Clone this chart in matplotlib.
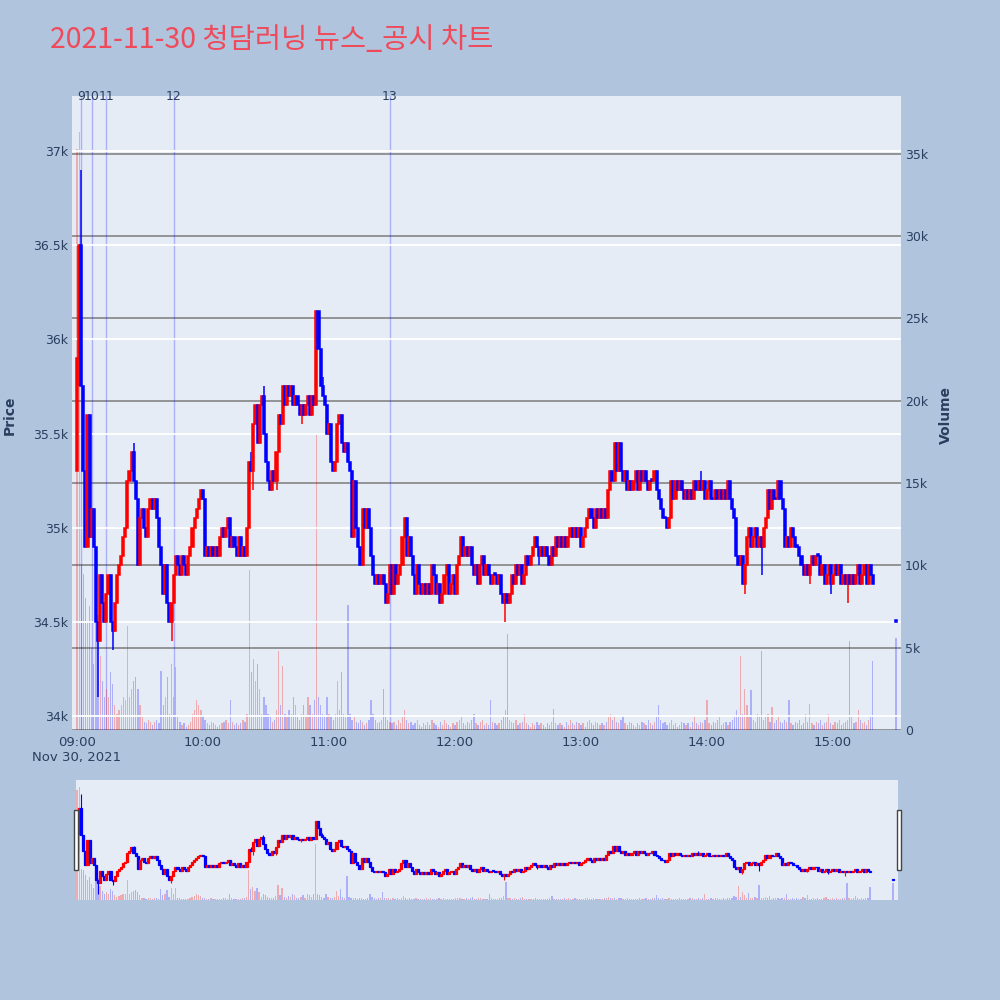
import matplotlib
matplotlib.use("Agg")
import matplotlib.pyplot as plt
from matplotlib.patches import Rectangle
import matplotlib.transforms as mtransforms

title = "2021-11-30 청담러닝 뉴스_공시 차트"

first_open = 35300
close = [
    35900, 36500, 35750, 35300, 34900, 35600, 34950, 35100, 34900, 34500,
    34400, 34750, 34600, 34500, 34650, 34750, 34500, 34450, 34600, 34750,
    34800, 34850, 34950, 35000, 35250, 35300, 35400, 35250, 35150, 34800,
    35050, 35100, 35000, 34950, 35100, 35150, 35100, 35150, 35050, 34900,
    34800, 34650, 34800, 34600, 34500, 34600, 34750, 34850, 34800, 34750,
    34850, 34800, 34750, 34850, 34900, 35000, 35050, 35100, 35150, 35200,
    35150, 34850, 34900, 34850, 34900, 34850, 34900, 34850, 34950, 35000,
    34950, 35000, 35050, 34900, 34950, 34900, 34850, 34950, 34850, 34900,
    34850, 35000, 35350, 35300, 35550, 35650, 35450, 35650, 35700, 35500,
    35350, 35250, 35200, 35300, 35250, 35400, 35600, 35550, 35750, 35650,
    35750, 35700, 35750, 35650, 35700, 35650, 35600, 35650, 35600, 35650,
    35700, 35600, 35700, 35650, 36150, 35950, 35750, 35700, 35650, 35500,
    35550, 35350, 35300, 35350, 35550, 35600, 35450, 35400, 35450, 35350,
    35300, 34950, 35250, 35000, 34900, 34800, 35100, 35000, 35100, 35000,
    34850, 34750, 34700, 34750, 34700, 34750, 34700, 34600, 34650, 34800,
    34650, 34800, 34700, 34750, 34800, 34950, 35050, 34850, 34950, 34850,
    34750, 34650, 34800, 34700, 34650, 34700, 34650, 34700, 34650, 34800,
    34750, 34650, 34700, 34600, 34650, 34750, 34800, 34650, 34700, 34750,
    34650, 34800, 34850, 34950, 34850, 34900, 34850, 34900, 34800, 34750,
    34800, 34700, 34800, 34850, 34750, 34800, 34750, 34700, 34750, 34750,
    34700, 34750, 34650, 34600, 34650, 34600, 34650, 34750, 34700, 34800,
    34750, 34800, 34700, 34750, 34850, 34800, 34850, 34900, 34950, 34900,
    34850, 34900, 34850, 34900, 34850, 34800, 34900, 34850, 34950, 34900,
    34950, 34900, 34950, 34900, 34950, 35000, 34950, 35000, 34950, 35000,
    34900, 34950, 35000, 35050, 35100, 35050, 35000, 35100, 35050, 35100,
    35050, 35100, 35050, 35200, 35300, 35250, 35450, 35300, 35450, 35300,
    35250, 35300, 35200, 35250, 35200, 35250, 35300, 35200, 35300, 35250,
    35300, 35250, 35200, 35250, 35250, 35300, 35200, 35150, 35100, 35050,
    35050, 35000, 35050, 35250, 35150, 35250, 35200, 35250, 35200, 35150,
    35200, 35150, 35200, 35150, 35250, 35200, 35250, 35200, 35250, 35150,
    35200, 35250, 35150, 35150, 35200, 35150, 35200, 35150, 35200, 35150,
    35250, 35150, 35100, 35050, 34850, 34800, 34850, 34700, 34800, 34950,
    35000, 34900, 34950, 35000, 34900, 34950, 34900, 35000, 35050, 35200,
    35100, 35200, 35150, 35150, 35250, 35150, 35100, 34900, 34950, 34900,
    35000, 34950, 34900, 34900, 34850, 34800, 34750, 34800, 34750, 34800,
    34850, 34800, 34850, 34850, 34750, 34800, 34700, 34750, 34800, 34700,
    34750, 34800, 34750, 34800, 34700, 34750, 34700, 34750, 34700, 34750,
    34700, 34750, 34800, 34700, 34750, 34800, 34700, 34800, 34750, 34700,
]
wick_high = {2: 36900, 27: 35450, 83: 35400, 86: 35600, 89: 35750,
             117: 35800, 297: 35300, 330: 35200}
wick_low = {1: 35750, 10: 34100, 17: 34350, 45: 34400, 84: 35200, 95: 35200,
            107: 35550, 204: 34500, 220: 34800, 318: 34650, 326: 34750,
            337: 34900, 349: 34700, 359: 34650, 367: 34600}

volume_k = [
    35.3, 36.3, 10.0, 9.5, 8.0, 6.5, 7.5, 5.0, 4.0, 9.0,
    7.0, 4.5, 3.0, 2.0, 2.5, 2.0, 3.5, 2.8, 1.5, 1.0,
    1.2, 1.5, 2.0, 1.8, 6.3, 2.0, 2.5, 3.0, 3.2, 2.5,
    1.5, 0.8, 0.5, 0.4, 0.6, 0.5, 0.3, 0.5, 0.6, 0.4,
    3.6, 1.5, 2.0, 3.2, 1.0, 4.0, 2.0, 3.8, 0.8, 0.5,
    0.3, 0.4, 0.2, 0.3, 0.5, 1.0, 1.2, 1.8, 1.5, 1.2,
    0.8, 0.6, 0.4, 0.3, 0.5, 0.4, 0.3, 0.2, 0.3, 0.4,
    0.5, 0.6, 0.4, 1.8, 0.5, 0.3, 0.4, 0.3, 0.4, 0.6,
    0.5, 1.0, 9.7, 3.5, 4.3, 3.0, 4.0, 2.5, 1.0, 2.0,
    1.5, 1.0, 0.8, 0.5, 0.6, 1.2, 4.8, 1.5, 3.9, 1.0,
    0.8, 1.2, 1.0, 2.0, 1.5, 0.8, 0.6, 1.0, 1.5, 0.8,
    2.0, 1.5, 1.0, 1.8, 17.9, 2.0, 1.5, 1.0, 0.8, 2.0,
    1.0, 0.8, 0.6, 1.0, 3.0, 1.2, 3.5, 1.0, 0.8, 7.6,
    1.0, 0.6, 0.8, 0.5, 0.4, 0.6, 0.5, 0.3, 0.4, 0.6,
    1.8, 1.0, 0.6, 0.4, 0.5, 0.6, 2.5, 0.8, 0.6, 0.5,
    0.4, 0.5, 0.3, 0.6, 0.4, 0.8, 1.2, 0.6, 0.4, 0.5,
    0.3, 0.4, 0.6, 0.3, 0.2, 0.4, 0.3, 0.5, 0.3, 0.6,
    0.4, 0.3, 0.2, 0.5, 0.3, 0.6, 0.4, 0.3, 0.2, 0.4,
    0.3, 0.5, 0.6, 0.8, 0.4, 0.3, 0.5, 0.4, 0.6, 1.0,
    0.4, 0.3, 0.5, 0.6, 0.3, 0.4, 0.3, 1.8, 0.5, 0.4,
    0.3, 0.4, 0.6, 0.8, 1.2, 5.8, 0.6, 0.5, 0.4, 0.6,
    0.3, 0.4, 0.5, 1.0, 0.4, 0.3, 0.2, 0.4, 0.3, 0.5,
    0.3, 0.4, 0.3, 0.2, 0.4, 0.3, 0.5, 1.3, 0.4, 0.3,
    0.4, 0.3, 0.2, 0.5, 0.3, 0.6, 0.4, 0.3, 0.5, 0.4,
    0.3, 0.4, 0.2, 0.5, 0.6, 0.4, 0.3, 0.5, 0.4, 0.3,
    0.4, 0.3, 0.5, 0.8, 1.0, 0.6, 0.8, 0.5, 0.4, 0.6,
    0.8, 0.4, 0.3, 0.5, 0.4, 0.3, 0.2, 0.4, 0.3, 0.5,
    0.4, 0.3, 0.6, 0.4, 0.3, 0.5, 0.8, 1.5, 0.6, 0.4,
    0.5, 0.3, 0.4, 0.6, 0.3, 0.4, 0.2, 0.3, 0.5, 0.4,
    0.3, 0.4, 0.2, 0.5, 0.8, 0.4, 0.3, 0.5, 0.4, 0.6,
    1.8, 0.4, 0.3, 0.5, 0.4, 0.6, 0.8, 0.3, 0.4, 0.5,
    0.3, 0.5, 0.6, 0.8, 1.2, 0.9, 4.5, 1.0, 2.5, 1.5,
    0.8, 2.4, 0.6, 0.5, 1.0, 0.8, 4.8, 0.6, 0.8, 1.0,
    0.5, 1.4, 0.4, 0.6, 0.8, 0.5, 0.4, 0.6, 0.5, 1.8,
    0.4, 0.3, 0.5, 0.4, 0.6, 0.3, 0.4, 1.0, 0.5, 1.6,
    0.4, 0.3, 0.5, 0.4, 0.6, 0.3, 0.4, 0.5, 1.0, 0.4,
    0.3, 0.5, 0.4, 0.6, 0.3, 0.4, 0.5, 0.6, 5.4, 0.8,
    0.4, 0.5, 1.2, 0.6, 0.4, 0.5, 0.3, 0.6, 0.8, 4.2,
]
closing_minute = 390
closing_price = 34500
closing_volume_k = 5.6

news_minutes = [2, 7, 14, 46, 149]
news_labels = ["9", "10", "11", "12", "13"]
tick_minutes = [0, 60, 120, 180, 240, 300, 360]
tick_labels = ["09:00", "10:00", "11:00", "12:00", "13:00", "14:00", "15:00"]
price_ticks = [34000, 34500, 35000, 35500, 36000, 36500, 37000]
volume_ticks = [0, 5000, 10000, 15000, 20000, 25000, 30000, 35000]

# ---- build OHLC ----
minutes = list(range(len(close))) + [closing_minute]
closes = close + [closing_price]
opens = [first_open] + close[:-1] + [closing_price]
highs, lows = [], []
for i, (o, c) in enumerate(zip(opens, closes)):
    highs.append(max(o, c, wick_high.get(i, c)))
    lows.append(min(o, c, wick_low.get(i, c)))
volumes = [v * 1000 for v in volume_k] + [closing_volume_k * 1000]

UP, DOWN = "#FF0000", "#0000FF"
colors = [UP if c > o else DOWN for o, c in zip(opens, closes)]
colors[0] = UP

BG = "#B0C4DE"
PLOT_BG = "#E5ECF6"
FONT_C = "#2a3f5f"
XLIM = (-2.4, 392.4)
PRICE_LIM = (33926, 37292)
VOL_LIM = (0, 38500)

fig = plt.figure(figsize=(10, 10), dpi=100)
fig.patch.set_facecolor(BG)


def draw(ax_vol, ax_px, body_w, body_lw, wick_lw, bar_w):
    vcol = [(1, 0, 0, 0.28) if c == UP else (0, 0, 1, 0.25) for c in colors]
    ax_vol.bar(minutes, volumes, width=bar_w, color=vcol, linewidth=0, zorder=2)
    for m, o, c, h, l, col in zip(minutes, opens, closes, highs, lows, colors):
        lo_b, hi_b = min(o, c), max(o, c)
        ax_px.vlines(m, l, h, color=col, lw=wick_lw, zorder=3)
        ax_px.bar(m, max(hi_b - lo_b, 8), bottom=lo_b, width=body_w, color=col,
                  edgecolor=col, linewidth=body_lw, zorder=4)


# ---- main chart ----
ax = fig.add_axes([0.072, 0.270, 0.829, 0.634])
ax.set_facecolor(PLOT_BG)
ax2 = ax.twinx()
draw(ax, ax2, 1.0, 1.1, 1.1, 0.6)

ax.set_xlim(*XLIM)
ax.set_ylim(*VOL_LIM)
ax2.set_ylim(*PRICE_LIM)

for a in (ax, ax2):
    for s in a.spines.values():
        s.set_visible(False)

ax.yaxis.tick_right()
ax.set_yticks(volume_ticks)
ax.set_yticklabels(["0"] + [f"{v // 1000}k" for v in volume_ticks[1:]])
ax.grid(axis="y", color="#8c8c8c", lw=1.3, zorder=0)
ax.set_axisbelow(True)
ax.tick_params(axis="y", length=0, pad=3, labelsize=9, labelcolor=FONT_C,
               right=False, labelright=True, left=False, labelleft=False)

ax2.yaxis.tick_left()
ax2.set_yticks(price_ticks)
ax2.set_yticklabels([f"{p / 1000:g}k" for p in price_ticks])
ax2.grid(axis="y", color="white", lw=1.3, zorder=0)
ax2.set_axisbelow(True)
ax2.tick_params(axis="y", length=0, pad=3, labelsize=9, labelcolor=FONT_C,
                left=False, labelleft=True, right=False, labelright=False)

ax.set_xticks(tick_minutes)
ax.set_xticklabels(tick_labels)
ax.tick_params(axis="x", length=0, pad=4, labelsize=9.5, labelcolor=FONT_C)

# news lines + labels
trans = mtransforms.blended_transform_factory(ax.transData, ax.transAxes)
for m, lab in zip(news_minutes, news_labels):
    ax.axvline(m, color=(0, 0, 1, 0.25), lw=1.0, zorder=1)
    ax.text(m, 1.0, lab, transform=trans, ha="center", va="center",
            fontsize=9, color=FONT_C)

fig.text(0.077, 1 - 0.757, "Nov 30, 2021", ha="center", va="center",
         fontsize=9.5, color=FONT_C)
fig.text(0.010, 1 - 0.415, "Price", rotation=90, ha="center", va="center",
         fontsize=10, fontweight="bold", color=FONT_C)
fig.text(0.946, 1 - 0.415, "Volume", rotation=90, ha="center", va="center",
         fontsize=10, fontweight="bold", color=FONT_C)
fig.text(0.050, 1 - 0.040, title, ha="left", va="center", fontsize=20.5,
         color="#EF4A5A", family=["Noto Sans CJK KR", "DejaVu Sans"])

# ---- range slider ----
sl = fig.add_axes([0.076, 0.100, 0.822, 0.120])
sl.set_facecolor(PLOT_BG)
sl2 = sl.twinx()
draw(sl, sl2, 1.0, 0.9, 0.8, 0.6)
sl.set_xlim(-0.5, 392.4)
sl.set_ylim(*VOL_LIM)
sl2.set_ylim(*PRICE_LIM)
for a in (sl, sl2):
    a.set_xticks([])
    a.set_yticks([])
    for s in a.spines.values():
        s.set_visible(False)

for xh in (0.0735, 0.8965):
    fig.patches.append(Rectangle((xh, 1 - 0.870), 0.004, 0.060,
                                 transform=fig.transFigure, facecolor="white",
                                 edgecolor="#444444", lw=1.0))

fig.savefig("out.png", dpi=100, facecolor=BG)
